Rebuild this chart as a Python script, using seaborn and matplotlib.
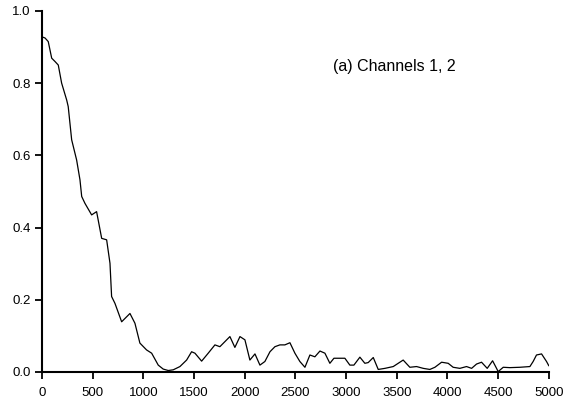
import numpy as np
import pandas as pd
import matplotlib
matplotlib.use("Agg")
import matplotlib.pyplot as plt
import seaborn as sns

# curve (lag vs. correlation)
lag = [0, 30, 62, 96, 128, 161, 194, 244, 259, 293, 342, 375, 392, 424, 490, 539,
       589, 638, 671, 687, 720, 786, 868, 917, 966, 1032, 1082, 1147, 1196, 1246,
       1295, 1361, 1427, 1476, 1509, 1575, 1640, 1706, 1755, 1854, 1903, 1953,
       2002, 2051, 2101, 2150, 2199, 2249, 2298, 2347, 2396, 2446, 2495, 2544,
       2594, 2643, 2692, 2742, 2791, 2840, 2880, 2939, 2988, 3037, 3077, 3136,
       3185, 3218, 3268, 3317, 3383, 3465, 3563, 3629, 3695, 3761, 3826, 3876,
       3942, 4007, 4056, 4122, 4188, 4238, 4287, 4336, 4392, 4445, 4484, 4500,
       4550, 4615, 4714, 4813, 4845, 4878, 4928, 4977, 5000]
corr = [0.928, 0.925, 0.915, 0.869, 0.860, 0.850, 0.800, 0.753, 0.735, 0.643,
        0.587, 0.532, 0.486, 0.467, 0.435, 0.444, 0.370, 0.366, 0.301, 0.209,
        0.190, 0.139, 0.162, 0.135, 0.080, 0.061, 0.052, 0.019, 0.008, 0.004,
        0.006, 0.015, 0.033, 0.056, 0.052, 0.030, 0.052, 0.075, 0.070, 0.098,
        0.068, 0.098, 0.089, 0.033, 0.050, 0.019, 0.029, 0.056, 0.070, 0.075,
        0.075, 0.081, 0.052, 0.029, 0.013, 0.047, 0.042, 0.058, 0.052, 0.024,
        0.038, 0.038, 0.038, 0.019, 0.019, 0.041, 0.024, 0.026, 0.040, 0.007,
        0.010, 0.015, 0.033, 0.013, 0.015, 0.010, 0.007, 0.013, 0.027, 0.024,
        0.013, 0.010, 0.015, 0.010, 0.022, 0.027, 0.010, 0.031, 0.010, 0.001,
        0.013, 0.012, 0.013, 0.015, 0.029, 0.047, 0.050, 0.029, 0.017]

x_ticks = [0, 500, 1000, 1500, 2000, 2500, 3000, 3500, 4000, 4500, 5000]
y_ticks = [0.0, 0.2, 0.4, 0.6, 0.8, 1.0]
label = "(a) Channels 1, 2"

df = pd.DataFrame({"lag": lag, "corr": corr})

sns.set_style("ticks")
plt.rcParams['font.family'] = ['Liberation Sans', 'DejaVu Sans']
plt.rcParams['text.color'] = 'black'

fig = plt.figure(figsize=(5.67, 4.03), dpi=100)
ax = fig.add_axes([0.074, 0.077, 0.894, 0.896])

sns.lineplot(data=df, x="lag", y="corr", color="black", linewidth=0.9, ax=ax)

ax.set_xlim(0, 5000)
ax.set_ylim(0, 1.0)
ax.set_xticks(x_ticks)
ax.set_yticks(y_ticks)
ax.set_yticklabels([f"{v:.1f}" for v in y_ticks])
ax.set_xlabel("")
ax.set_ylabel("")
ax.tick_params(direction="out", length=5, width=1.3, labelsize=9.5, colors="black")
ax.tick_params(axis="x", pad=6)
ax.tick_params(axis="y", pad=3)
for s in ["left", "bottom"]:
    ax.spines[s].set_linewidth(1.5)
    ax.spines[s].set_color("black")
sns.despine(ax=ax)

ax.text(0.574, 0.845, label, transform=ax.transAxes, fontsize=11.5,
        color="black", ha="left", va="center")

fig.savefig("out.png", dpi=100)
